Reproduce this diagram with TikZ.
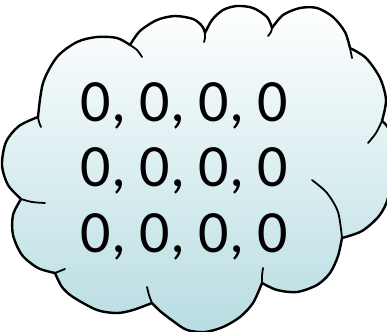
\documentclass[tikz,border=0pt]{standalone}
\usepackage{fontspec}
\setmainfont{Carlito}
\usepackage{tikz}

\definecolor{cloudtop}{RGB}{255,255,255}
\definecolor{cloudbottom}{RGB}{184,221,226}

\tikzset{
  cloudline/.style={line width=1.8pt, line join=round, line cap=round},
  cloudbody/.style={cloudline, line width=2.4pt, draw=black, preaction={top color=cloudtop, bottom color=cloudbottom}},
  zerotext/.style={inner sep=0pt, align=center, font=\fontsize{60}{65.5}\selectfont}
}

\begin{document}
\begin{tikzpicture}[x=1pt, y=-1pt]
		\useasboundingbox (0,0) rectangle (387,331);
		\clip (0,0) rectangle (387,331);
		% outline of the cloud, one plot per puff
		\path[cloudbody] (38,117)
		  -- plot[smooth] coordinates {(38,117) (43,83) (57,57) (77,42) (97,37) (117,38) (130,45)}
		  -- plot[smooth] coordinates {(130,45) (140,31) (157,20) (175,16) (193,19) (202,26) (205,33)}
		  -- plot[smooth] coordinates {(205,33) (212,20) (223,10) (237,6) (253,8) (267,17) (272,28)}
		  -- plot[smooth] coordinates {(272,28) (283,15) (300,8) (317,8) (333,17) (345,32) (350,48)}
		  -- plot[smooth] coordinates {(350,48) (366,58) (380,78) (386,100) (382,121)}
		  -- plot[smooth] coordinates {(382,121) (389,130) (395,160) (388,198) (379,216) (362,231) (342,238)}
		  -- plot[smooth] coordinates {(342,238) (338,256) (330,273) (317,285) (297,292) (277,290) (262,283)}
		  -- plot[smooth] coordinates {(262,283) (253,303) (240,317) (223,327) (205,332) (187,330) (173,321) (160,311) (152,303)}
		  -- plot[smooth] coordinates {(152,303) (133,310) (117,313) (97,310) (73,297) (62,287) (55,273)}
		  -- plot[smooth] coordinates {(55,273) (38,268) (22,255) (13,235) (13,215) (21,199)}
		  -- plot[smooth] coordinates {(21,199) (8,185) (2,165) (6,142) (19,126) (38,117)}
		  -- cycle;
		% short ends of the puffs running into the cloud
		\draw[cloudline]
		  plot[smooth] coordinates {(38,117) (39,122) (41,127)}
		  plot[smooth] coordinates {(130,45) (137,50) (142,57)}
		  plot[smooth] coordinates {(205,33) (205,38) (204,42)}
		  plot[smooth] coordinates {(272,28) (271,32) (268,36)}
		  plot[smooth] coordinates {(350,48) (351,53) (352,58)}
		  plot[smooth] coordinates {(382,121) (376,133) (368,143)}
		  plot[smooth] coordinates {(312,180) (327,193) (338,212) (342,238)}
		  plot[smooth] coordinates {(263,268) (262,276) (262,283)}
		  plot[smooth] coordinates {(147,287) (149,295) (152,303)}
		  plot[smooth] coordinates {(65,269) (60,271) (55,273)}
		  plot[smooth] coordinates {(45,203) (32,202) (21,199)};
		\node[zerotext, anchor=north] (zeros) at (184.5,82) {0, 0, 0, 0\\0, 0, 0, 0\\0, 0, 0, 0};
\end{tikzpicture}
\end{document}
